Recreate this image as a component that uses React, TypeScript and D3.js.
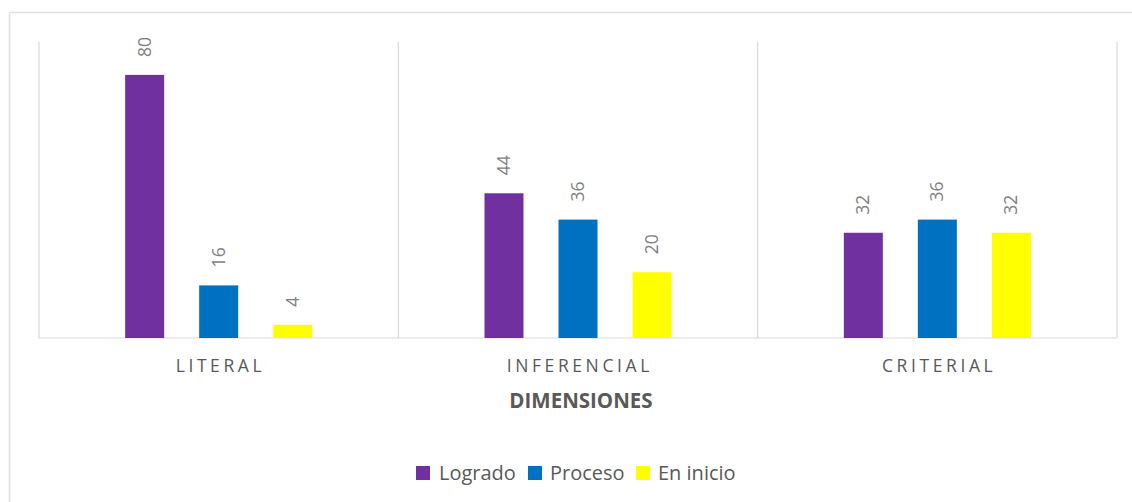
import React from "react";
import * as d3 from "d3";

const categories = ["LITERAL", "INFERENCIAL", "CRITERIAL"];
const seriesNames = ["Logrado", "Proceso", "En inicio"];
const logrado = [80, 44, 32];
const proceso = [16, 36, 36];
const enInicio = [4, 20, 32];
const seriesColors = ["#7030A0", "#0070C0", "#FFFF00"];
const axisTitle = "DIMENSIONES";
const yMax = 90;

const W = 1132;
const H = 502;
const FONT = "'Open Sans', 'Noto Sans', sans-serif";

export default function App() {
  const values = [logrado, proceso, enInicio];
  const plot = { left: 39, right: 1117, top: 42, bottom: 338 };
  const x0 = d3.scaleBand<string>().domain(categories).range([plot.left, plot.right]).padding(0);
  const x1 = d3
    .scaleBand<string>()
    .domain(seriesNames)
    .range([0, x0.bandwidth()])
    .paddingInner(0.473)
    .paddingOuter(1.164);
  const y = d3.scaleLinear().domain([0, yMax]).range([plot.bottom, plot.top]);
  const grid = "#d9d9d9";

  const separators = categories.map((c) => x0(c)!).concat([plot.right]);

  const legendItems = [
    { name: seriesNames[0], sq: 416, tx: 439 },
    { name: seriesNames[1], sq: 528, tx: 550 },
    { name: seriesNames[2], sq: 636, tx: 658 },
  ];

  return (
    <svg
      width={W}
      height={H}
      style={{ position: "absolute", left: 0, top: 0, background: "#fff" }}
      fontFamily={FONT}
    >
      <rect x={0} y={0} width={W} height={H} fill="#fff" />
      <line x1={9.5} y1={12.5} x2={W} y2={12.5} stroke="#e0e0e0" strokeWidth={1.5} />
      <line x1={9.5} y1={12.5} x2={9.5} y2={H} stroke="#e0e0e0" strokeWidth={1.5} />

      {separators.map((sx, i) => (
        <line key={"s" + i} x1={sx} x2={sx} y1={plot.top} y2={plot.bottom} stroke={grid} strokeWidth={1.2} />
      ))}
      <line x1={plot.left} x2={plot.right} y1={plot.bottom} y2={plot.bottom} stroke={grid} strokeWidth={1.2} />

      {categories.map((c, ci) => (
        <g key={c} transform={`translate(${x0(c)},0)`}>
          {seriesNames.map((s, si) => {
            const v = values[si][ci];
            const bx = x1(s)!;
            const bw = x1.bandwidth();
            return (
              <g key={s}>
                <rect x={bx} y={y(v)} width={bw} height={y(0) - y(v)} fill={seriesColors[si]} />
                <text
                  transform={`translate(${bx + bw / 2},${y(v) - 18}) rotate(-90)`}
                  dy="0.35em"
                  textAnchor="start"
                  fontSize={17.5}
                  fill="#7f7f7f"
                >
                  {v}
                </text>
              </g>
            );
          })}
        </g>
      ))}

      {categories.map((c) => (
        <text
          key={"l" + c}
          x={x0(c)! + x0.bandwidth() / 2 + 1.8}
          y={372}
          textAnchor="middle"
          fontSize={17.5}
          letterSpacing={3.6}
          fill="#595959"
        >
          {c}
        </text>
      ))}

      <text
        x={(plot.left + plot.right) / 2 + 3}
        y={408}
        textAnchor="middle"
        fontSize={20.5}
        fontWeight="bold"
        fill="#595959"
      >
        {axisTitle}
      </text>

      {legendItems.map((it, i) => (
        <g key={it.name}>
          <rect x={it.sq} y={466} width={14} height={14} fill={seriesColors[i]} />
          <text x={it.tx} y={480} fontSize={20} fill="#595959">
            {it.name}
          </text>
        </g>
      ))}
    </svg>
  );
}
